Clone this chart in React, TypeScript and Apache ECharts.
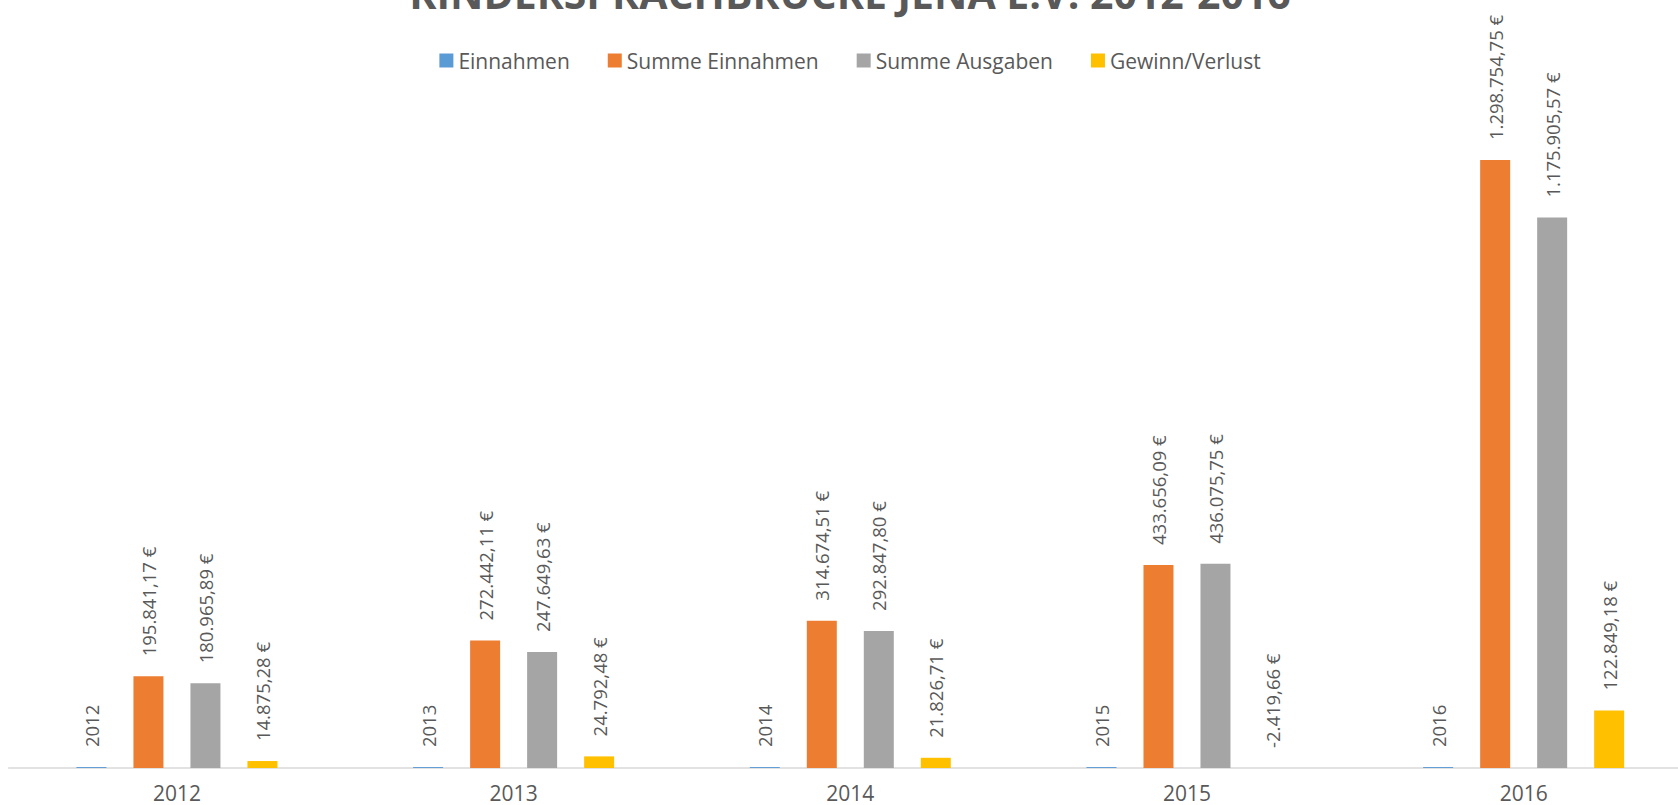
import React, { useEffect, useRef } from "react";
import * as echarts from "echarts";

const titleText = "KINDERSPRACHBRÜCKE JENA E.V. 2012-2016";
const categories = ["2012", "2013", "2014", "2015", "2016"];
const seriesNames = ["Einnahmen", "Summe Einnahmen", "Summe Ausgaben", "Gewinn/Verlust"];
const einnahmen = [2012, 2013, 2014, 2015, 2016];
const summeEinnahmen = [195841.17, 272442.11, 314674.51, 433656.09, 1298754.75];
const summeAusgaben = [180965.89, 247649.63, 292847.8, 436075.75, 1175905.57];
const gewinnVerlust = [14875.28, 24792.48, 21826.71, -2419.66, 122849.18];
const colors = ["#5B9BD5", "#ED7D31", "#A5A5A5", "#FFC000"];

const FONT = "'Open Sans', 'Noto Sans', sans-serif";
const TEXT = "#595959";

function fmtDe(v: number): string {
  const neg = v < 0;
  const [i, d] = Math.abs(v).toFixed(2).split(".");
  const ii = i.replace(/\B(?=(\d{3})+(?!\d))/g, ".");
  return (neg ? "-" : "") + ii + "," + d + " €";
}

export default function App() {
  const ref = useRef<HTMLDivElement>(null);
  useEffect(() => {
    if (!ref.current) return;
    const chart = echarts.init(ref.current, null, { renderer: "svg" });
    const dataSets = [einnahmen, summeEinnahmen, summeAusgaben, gewinnVerlust];
    chart.setOption({
      animation: false,
      color: colors,
      title: {
        text: titleText,
        left: "center",
        top: -33,
        textStyle: { fontFamily: FONT, fontSize: 41, fontWeight: "bold", color: TEXT },
      },
      legend: {
        top: 45,
        left: "center",
        icon: "rect",
        itemWidth: 14,
        itemHeight: 14,
        itemGap: 38,
        data: seriesNames,
        textStyle: { fontFamily: FONT, fontSize: 21, color: TEXT },
      },
      grid: { left: 8.6, right: 8, top: 112.6, bottom: 37, containLabel: false },
      xAxis: {
        type: "category",
        data: categories,
        axisTick: { show: false },
        axisLine: { lineStyle: { color: "#D9D9D9", width: 1.5 } },
        axisLabel: { fontFamily: FONT, fontSize: 21, color: TEXT, margin: 14 },
      },
      yAxis: {
        type: "value",
        min: 0,
        max: 1400000,
        interval: 200000,
        show: false,
        splitLine: { show: false },
      },
      series: seriesNames.map((name, si) => ({
        name,
        type: "bar",
        data: dataSets[si],
        barWidth: 30,
        barGap: "90%",
        label: {
          show: true,
          position: "top",
          rotate: 90,
          align: "left",
          verticalAlign: "middle",
          distance: 20,
          fontFamily: FONT,
          fontSize: 18.5,
          color: TEXT,
          formatter: (p: any) => (si === 0 ? String(p.value) : fmtDe(p.value)),
        },
      })),
    });
    return () => chart.dispose();
  }, []);
  return (
    <div
      ref={ref}
      style={{ position: "fixed", left: 0, top: 0, width: 1700, height: 805, background: "#fff" }}
    />
  );
}
